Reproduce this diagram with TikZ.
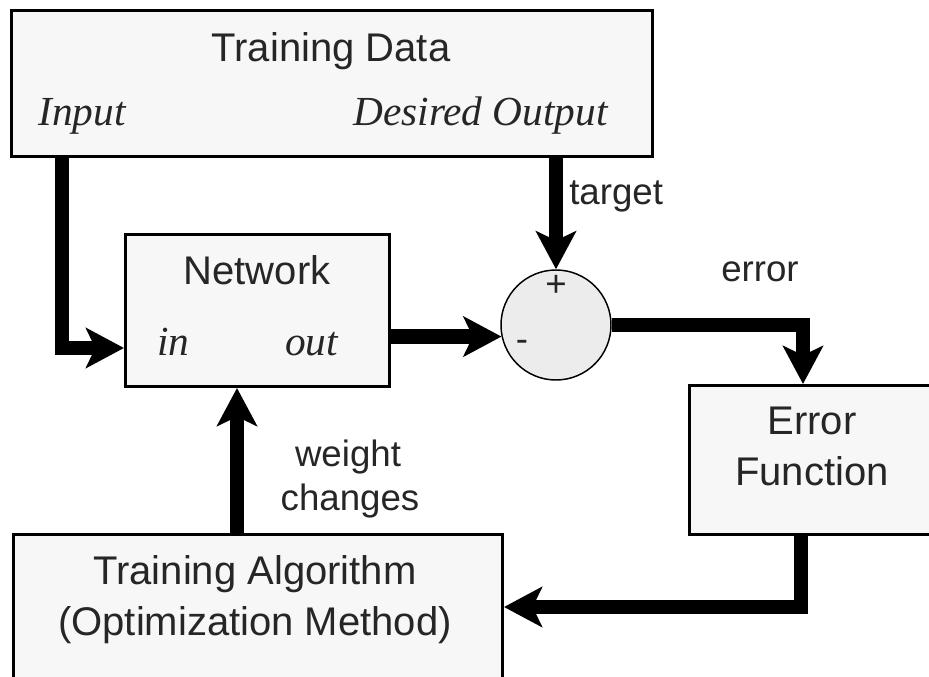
\documentclass[tikz,border=0pt]{standalone}
\usepackage{fontspec}
\setmainfont{Liberation Sans}
\newfontfamily\serfont{Liberation Serif}
\usetikzlibrary{arrows.meta,calc}
\definecolor{boxfill}{HTML}{F7F7F7}
\definecolor{sumfill}{HTML}{ECECEC}
\definecolor{txt}{HTML}{262626}
\begin{document}
\begin{tikzpicture}[x=0.75pt,y=-0.75pt,
  box/.style={draw=black, line width=2.25pt, fill=boxfill, inner sep=0pt, anchor=north west},
  big/.style={font=\fontsize{30}{36}\selectfont, text=txt, inner sep=0pt, anchor=base},
  small/.style={font=\fontsize{27.5}{33}\selectfont, text=txt, inner sep=0pt, anchor=base},
  ital/.style={font=\serfont\itshape\fontsize{31}{36}\selectfont, text=txt, inner sep=0pt, anchor=base},
  flow/.style={draw=black, line width=11pt, line join=miter,
    -{Stealth[length=28.5pt,width=30pt,inset=7pt]}}]
\useasboundingbox (0,0) rectangle (929,677);
\clip (0,0) rectangle (929,677);
\fill[white] (0,0) rectangle (929,677);

% boxes
\node[box, minimum width=480.75pt, minimum height=109.5pt] (td) at (10,9) {};
\node[box, minimum width=198pt, minimum height=114pt] (net) at (124,233) {};
\node[draw=black, line width=1.1pt, fill=sumfill, circle, minimum size=82.5pt, inner sep=0pt] (sum) at (556,325) {};
\node[box, minimum width=200pt, minimum height=111.75pt] (ef) at (688,384) {};
\node[box, minimum width=366.75pt, minimum height=140.25pt] (ta) at (12,533) {};

% texts
\node[big] (tdt) at (331,62) {Training Data};
\node[ital, anchor=base west] (tdin) at (38,126) {Input};
\node[ital, anchor=base east] (tdout) at (608,126) {Desired Output};
\node[big] (nett) at (257,285) {Network};
\node[ital, anchor=base west] (netin) at (157,356) {in};
\node[ital, anchor=base west] (netout) at (285,356) {out};
\node[small] (plus) at (556,297) {+};
\node[small] (minus) at (522,352) {-};
\node[big] (eft1) at (812,435) {Error};
\node[big] (eft2) at (812,485) {Function};
\node[big] (tat1) at (255,584) {Training Algorithm};
\node[big] (tat2) at (255,635) {(Optimization Method)};
\node[small, anchor=base west] (ltarget) at (569,205) {target};
\node[small, anchor=base west] (lerror) at (721,282) {error};
\node[small] (lw1) at (348,467) {weight};
\node[small] (lw2) at (350,510) {changes};

% connectors
\draw[flow] ($(td.south west)+(52,0)$) |- ($(net.south west)+(0,-40)$);
\draw[flow] (net.east |- sum.192.6) -- (sum.192.6);
\draw[flow] (sum.north |- td.south) -- (sum.north);
\draw[flow] (sum.east) -| ($(ef.north west)+(115,0)$);
\draw[flow] ($(ef.south west)+(113,0)$) |- ($(ta.north east)+(0,74)$);
\draw[flow] ($(ta.north west)+(225,0)$) -- ($(net.south west)+(113,0)$);
\end{tikzpicture}
\end{document}
